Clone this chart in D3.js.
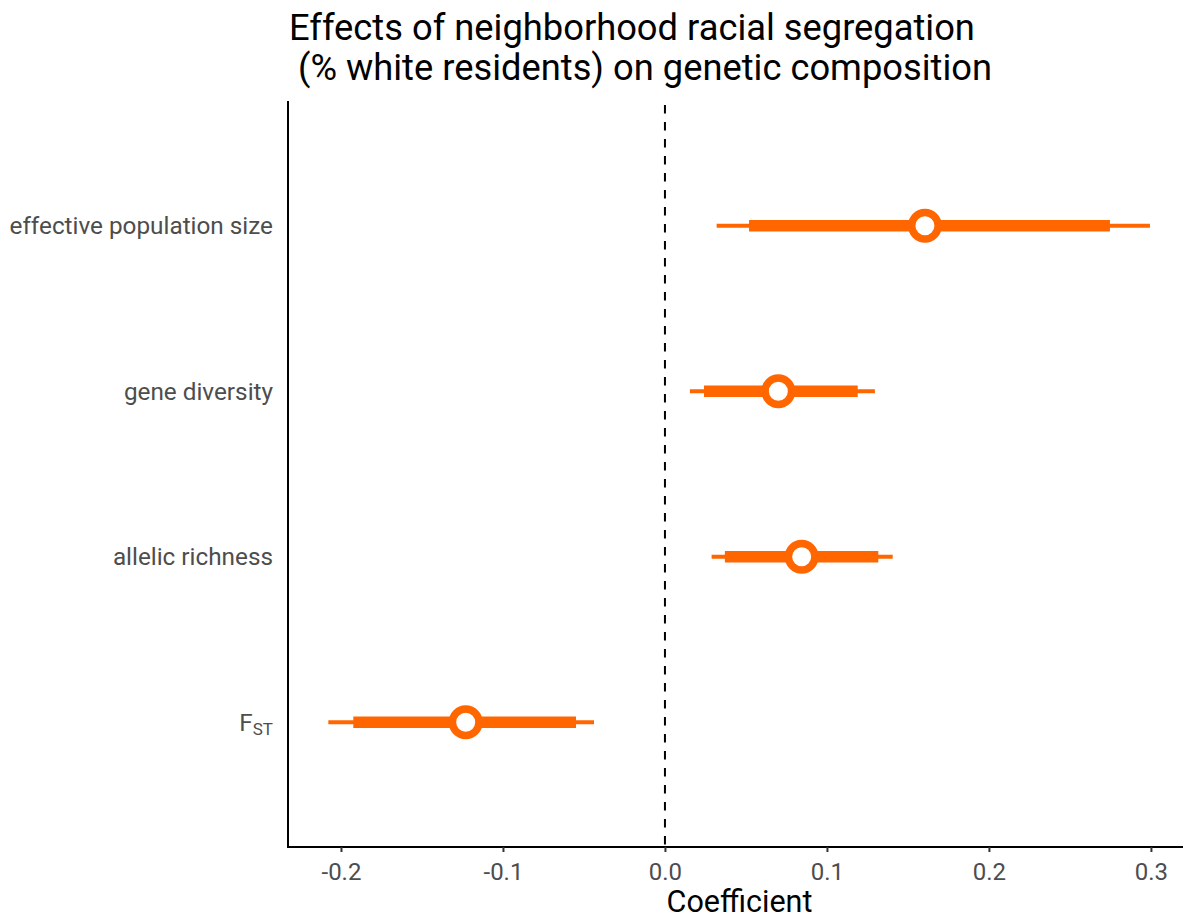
<!DOCTYPE html>
<html>
<head>
<meta charset="utf-8">
<script src="https://cdn.jsdelivr.net/npm/d3@7"></script>
<style>
  body { margin: 0; background: #fff; }
  svg { display: block; font-family: Roboto, "Noto Sans", sans-serif; }
</style>
</head>
<body>
<svg id="chart" width="1185" height="919"></svg>
<script>
// Response variables, top to bottom
const responses = ["effective population size", "gene diversity", "allelic richness", "FST"];
// Point estimates of the coefficient
const estimates = [0.1605, 0.070, 0.0844, -0.123];
// Inner (thick) interval bounds
const innerLow  = [0.0519, 0.0241, 0.0370, -0.1924];
const innerHigh = [0.2747, 0.1190, 0.1317, -0.0549];
// Outer (thin) interval bounds
const outerLow  = [0.0319, 0.0154, 0.0288, -0.2078];
const outerHigh = [0.2994, 0.1296, 0.1406, -0.0438];
// X axis ticks
const xTicks = [-0.2, -0.1, 0.0, 0.1, 0.2, 0.3];
const xTickLabels = ["-0.2", "-0.1", "0.0", "0.1", "0.2", "0.3"];

const rows = responses.map((r, i) => ({
  name: r, est: estimates[i],
  lo1: innerLow[i], hi1: innerHigh[i],
  lo2: outerLow[i], hi2: outerHigh[i]
}));

const panel = { left: 288, right: 1183, top: 101, bottom: 847 };
const orange = "#FF6600";

const svg = d3.select("#chart");

const x = d3.scaleLinear()
  .domain([-0.2327, 0.3198])
  .range([panel.left, panel.right]);

const y = d3.scalePoint()
  .domain(responses)
  .range([panel.top, panel.bottom])
  .padding(0.754);

// Zero reference line
svg.append("line")
  .attr("x1", x(0)).attr("x2", x(0))
  .attr("y1", panel.top).attr("y2", panel.bottom)
  .attr("stroke", "#000").attr("stroke-width", 2)
  .attr("stroke-dasharray", "8.5,8.5")
  .attr("stroke-dashoffset", 13);

const g = svg.append("g");

// Outer intervals
g.selectAll(".outer").data(rows).join("line")
  .attr("class", "outer")
  .attr("x1", d => x(d.lo2)).attr("x2", d => x(d.hi2))
  .attr("y1", d => y(d.name)).attr("y2", d => y(d.name))
  .attr("stroke", orange).attr("stroke-width", 4);

// Inner intervals
g.selectAll(".inner").data(rows).join("line")
  .attr("class", "inner")
  .attr("x1", d => x(d.lo1)).attr("x2", d => x(d.hi1))
  .attr("y1", d => y(d.name)).attr("y2", d => y(d.name))
  .attr("stroke", orange).attr("stroke-width", 11.5);

// Point estimates
g.selectAll(".pt").data(rows).join("circle")
  .attr("class", "pt")
  .attr("cx", d => x(d.est)).attr("cy", d => y(d.name))
  .attr("r", 13.25)
  .attr("fill", "#fff").attr("stroke", orange).attr("stroke-width", 7.5);

// X axis
const xAxis = svg.append("g")
  .attr("transform", `translate(0,${panel.bottom})`)
  .call(d3.axisBottom(x).tickValues(xTicks)
    .tickFormat((d, i) => xTickLabels[i]).tickSize(5).tickPadding(6));
xAxis.select(".domain").attr("stroke", "#000").attr("stroke-width", 2)
  .attr("d", `M${panel.left - 1},0H${panel.right}`);
xAxis.selectAll(".tick line").attr("stroke", "#333").attr("stroke-width", 2);
xAxis.selectAll(".tick text")
  .attr("fill", "#4d4d4d").style("font-size", "24px")
  .attr("dy", null).attr("y", 33)
  .style("font-family", "Roboto, sans-serif");

// Y axis
const yAxis = svg.append("g")
  .attr("transform", `translate(${panel.left},0)`)
  .call(d3.axisLeft(y).tickSize(0).tickPadding(15));
yAxis.select(".domain").attr("stroke", "#000").attr("stroke-width", 2)
  .attr("d", `M0,${panel.top}V${panel.bottom + 1}`);
yAxis.selectAll(".tick text")
  .attr("fill", "#4d4d4d").style("font-size", "24.3px")
  .style("font-family", "Roboto, sans-serif");

// Subscripted F_ST label
yAxis.selectAll(".tick text").filter(d => d === "FST").each(function () {
  const t = d3.select(this).text(null);
  t.append("tspan").text("F");
  t.append("tspan").attr("dy", "0.25em").style("font-size", "17px").text("ST");
});

// Axis title
svg.append("text")
  .attr("x", (panel.left + panel.right) / 2 + 4).attr("y", 912)
  .attr("text-anchor", "middle")
  .style("font-size", "30.5px").attr("fill", "#000")
  .text("Coefficient");

// Plot title
const title = svg.append("text")
  .attr("fill", "#000").style("font-size", "36.3px")
  .attr("xml:space", "preserve");
title.append("tspan").attr("x", panel.left + 1).attr("y", 40)
  .text("Effects of neighborhood racial segregation");
title.append("tspan").attr("x", panel.left + 1).attr("y", 80)
  .text(" (% white residents) on genetic composition");
</script>
</body>
</html>
